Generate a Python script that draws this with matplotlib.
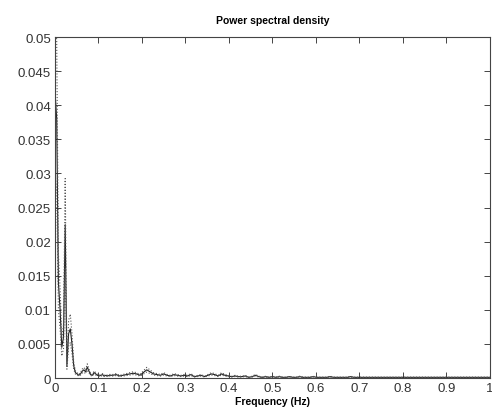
import numpy as np
import matplotlib
matplotlib.use("Agg")
import matplotlib.pyplot as plt

plt.rcParams["font.family"] = ["Liberation Sans", "DejaVu Sans"]

# frequency bins: fine grid at low frequencies, coarser grid for the tail
freq_head = np.arange(0, 33) / 256.0
freq_tail = np.arange(17, 129) / 128.0

psd_head = [0.042, 0.038, 0.014, 0.010, 0.0045, 0.006, 0.0225, 0.0018,
            0.0065, 0.0072, 0.0050, 0.0018, 0.0008, 0.0006, 0.0004, 0.0006,
            0.0010, 0.0012, 0.0009, 0.0016, 0.0010, 0.0005, 0.0004, 0.0008,
            0.0006, 0.0004, 0.0003, 0.0004, 0.0005, 0.0003, 0.0004, 0.0003,
            0.0004]
psd_tail = [0.0004, 0.0005, 0.0003, 0.0004,
            0.0005, 0.0006, 0.0007, 0.0006, 0.0004,
            0.0008, 0.0012, 0.0009, 0.0006,
            0.0005, 0.0004, 0.0006, 0.0004, 0.0003, 0.0005, 0.0004, 0.0003, 0.0004,
            0.0003, 0.0005, 0.0002, 0.0003, 0.0004, 0.0002,
            0.0004, 0.0006, 0.0005, 0.0003, 0.0006, 0.0004, 0.0003,
            0.0002, 0.0003, 0.0002, 0.0002, 0.0003, 0.0001, 0.0002, 0.0004,
            0.0002, 0.0001, 0.0002, 0.0001, 0.0002,
            0.0001, 0.0002, 0.0001, 0.0001, 0.0002, 0.0001, 0.0001, 0.0002,
            0.0001, 0.0001, 0.0001, 0.0002, 0.0001, 0.0001, 0.0001, 0.0001,
            0.0002, 0.0001, 0.0001, 0.0001, 0.0001, 0.0001, 0.0002, 0.0001,
            0.0001, 0.0001, 0.0001, 0.0001, 0.0001, 0.0001, 0.0001, 0.0001,
            0.0001, 0.0001, 0.0001, 0.0001, 0.0001, 0.0001, 0.0001, 0.0001,
            0.0001, 0.0001, 0.0001, 0.0001, 0.0001, 0.0001, 0.0001, 0.0001,
            0.0001, 0.0001, 0.0001, 0.0001, 0.0001, 0.0001, 0.0001, 0.0001,
            0.0001, 0.0001, 0.0001, 0.0001, 0.0001, 0.0001, 0.0001, 0.0001]

# confidence interval factors (chi-square bounds)
ci_low = 0.72
ci_high = 1.3

freq = np.concatenate([freq_head, freq_tail])
psd = np.concatenate([psd_head, psd_tail])

fig = plt.figure(figsize=(4.92, 4.14), dpi=100)
ax = fig.add_axes([0.1118, 0.0845, 0.884, 0.8235])

ax.plot(freq, psd, color="#222222", lw=0.8)
ax.plot(freq, psd * ci_high, color="#555555", lw=0.8, ls=":")
ax.plot(freq, psd * ci_low, color="#555555", lw=0.8, ls=":")

ax.set_xlim(0, 1)
ax.set_ylim(0, 0.05)
ax.set_xticks(np.arange(0, 1.01, 0.1))
ax.set_xticklabels(["0", "0.1", "0.2", "0.3", "0.4", "0.5", "0.6", "0.7", "0.8", "0.9", "1"])
ax.set_yticks(np.arange(0, 0.0501, 0.005))
ax.set_yticklabels(["0", "0.005", "0.01", "0.015", "0.02", "0.025", "0.03",
                    "0.035", "0.04", "0.045", "0.05"])
ax.tick_params(direction="in", length=4, width=0.7, top=True, right=True,
               labelsize=9.5, labelcolor="#333333", pad=3, color="#444444")
for s in ax.spines.values():
    s.set_linewidth(0.8)
    s.set_color("#444444")

ax.set_title("Power spectral density", fontsize=7.5, fontweight="bold", pad=10)
ax.set_xlabel("Frequency (Hz)", fontsize=7.5, fontweight="bold", labelpad=1)

fig.savefig("out.png", dpi=100)
